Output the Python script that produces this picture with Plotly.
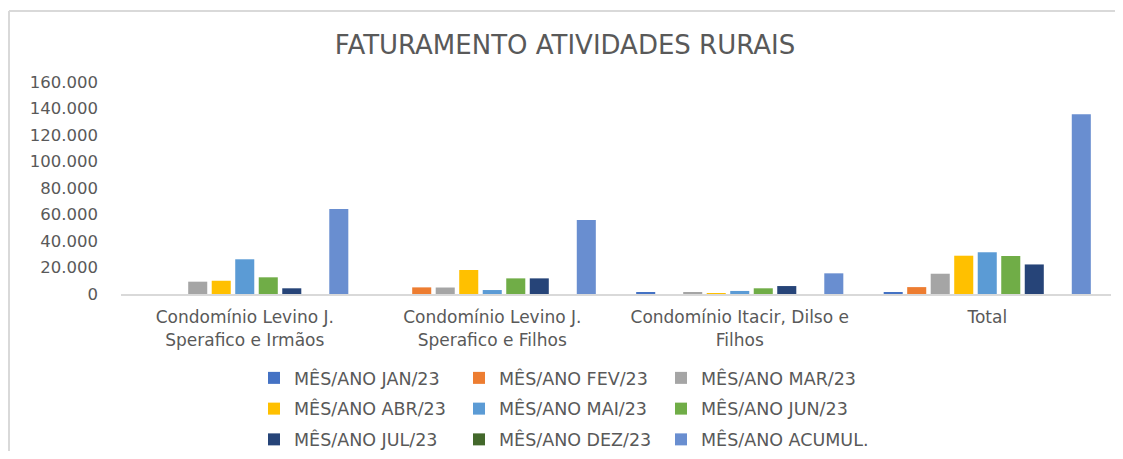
import plotly.graph_objects as go

categories = [
    "Condomínio Levino J.<br>Sperafico e Irmãos",
    "Condomínio Levino J.<br>Sperafico e Filhos",
    "Condomínio Itacir, Dilso e<br>Filhos",
    "Total",
]

series_names = [
    "MÊS/ANO JAN/23", "MÊS/ANO FEV/23", "MÊS/ANO MAR/23",
    "MÊS/ANO ABR/23", "MÊS/ANO MAI/23", "MÊS/ANO JUN/23",
    "MÊS/ANO JUL/23", "MÊS/ANO DEZ/23", "MÊS/ANO ACUMUL.",
]

jan_23 = [0, 0, 1000, 1000]
fev_23 = [0, 5000, 0, 5200]
mar_23 = [9300, 4900, 1000, 15300]
abr_23 = [10000, 18100, 600, 28900]
mai_23 = [26200, 3000, 2300, 31500]
jun_23 = [12600, 11800, 4300, 28700]
jul_23 = [4300, 11800, 6000, 22300]
dez_23 = [0, 0, 0, 0]
acumul = [64200, 55900, 15600, 135700]

series_values = [jan_23, fev_23, mar_23, abr_23, mai_23, jun_23, jul_23, dez_23, acumul]

colors = ["#4472C4", "#ED7D31", "#A5A5A5", "#FFC000", "#5B9BD5",
          "#70AD47", "#264478", "#43682B", "#698ED0"]

# legend columns: column 1 -> legend, column 2 -> legend2, column 3 -> legend3
legend_of = ["legend", "legend2", "legend3"] * 3

TXT = "#595959"
FONT = "DejaVu Sans"

fig = go.Figure()
for i, (name, vals, col) in enumerate(zip(series_names, series_values, colors)):
    fig.add_trace(go.Bar(
        x=categories, y=vals, name=name,
        marker=dict(color=col, line=dict(width=0)),
        legend=legend_of[i], legendgroup=name,
    ))

# page has an 8px body margin; work in page coordinates and convert
OFF = 8
W, H = 1123 - 2 * OFF, 459 - 2 * OFF
plot_left, plot_right, plot_top, plot_bottom = 121, 1111, 82, 294  # page px
L = plot_left - OFF
R = W - (plot_right - OFF)
T = plot_top - OFF
B = H - (plot_bottom - OFF)
pw = plot_right - plot_left
ph = plot_bottom - plot_top

def px_x(px):
    return (px - plot_left) / pw

def px_y(py):
    return (plot_bottom - py) / ph

leg_common = dict(
    orientation="v", yanchor="top", xanchor="left",
    font=dict(family=FONT, size=17.5, color=TXT),
    bgcolor="rgba(0,0,0,0)", tracegroupgap=5,
    itemwidth=30,
)
leg_y = px_y(360)

fig.update_layout(
    width=W, height=H,
    margin=dict(l=L, r=R, t=T, b=B, autoexpand=False),
    paper_bgcolor="white", plot_bgcolor="white",
    separators=",.",
    barmode="group", bargap=0.145, bargroupgap=0.19,
    font=dict(family=FONT, color=TXT),
    title=dict(text="FATURAMENTO ATIVIDADES RURAIS",
               font=dict(family=FONT, size=26, color=TXT),
               x=(565 - OFF) / W, xref="container", xanchor="center",
               y=1 - (45 - OFF) / H, yref="container", yanchor="middle"),
    xaxis=dict(showline=True, linecolor="#D9D9D9", linewidth=2,
               showgrid=False, ticks="", ticklabelstandoff=7,
               tickfont=dict(family=FONT, size=17, color=TXT)),
    yaxis=dict(range=[0, 160000], dtick=20000, tickformat=",d",
               showgrid=False, zeroline=False, showline=False,
               ticks="", ticklabelstandoff=22,
               tickfont=dict(family=FONT, size=16.5, color=TXT)),
    legend=dict(x=px_x(254), y=leg_y, **leg_common),
    legend2=dict(x=px_x(459), y=leg_y, **leg_common),
    legend3=dict(x=px_x(661), y=leg_y, **leg_common),
    showlegend=True,
    shapes=[
        dict(type="line", xref="paper", yref="paper",
             x0=px_x(9), x1=px_x(1123), y0=px_y(11), y1=px_y(11),
             line=dict(color="#D9D9D9", width=2)),
        dict(type="line", xref="paper", yref="paper",
             x0=px_x(9), x1=px_x(9), y0=px_y(11), y1=px_y(460),
             line=dict(color="#D9D9D9", width=2)),
    ],
)

fig.write_html("out.html")
